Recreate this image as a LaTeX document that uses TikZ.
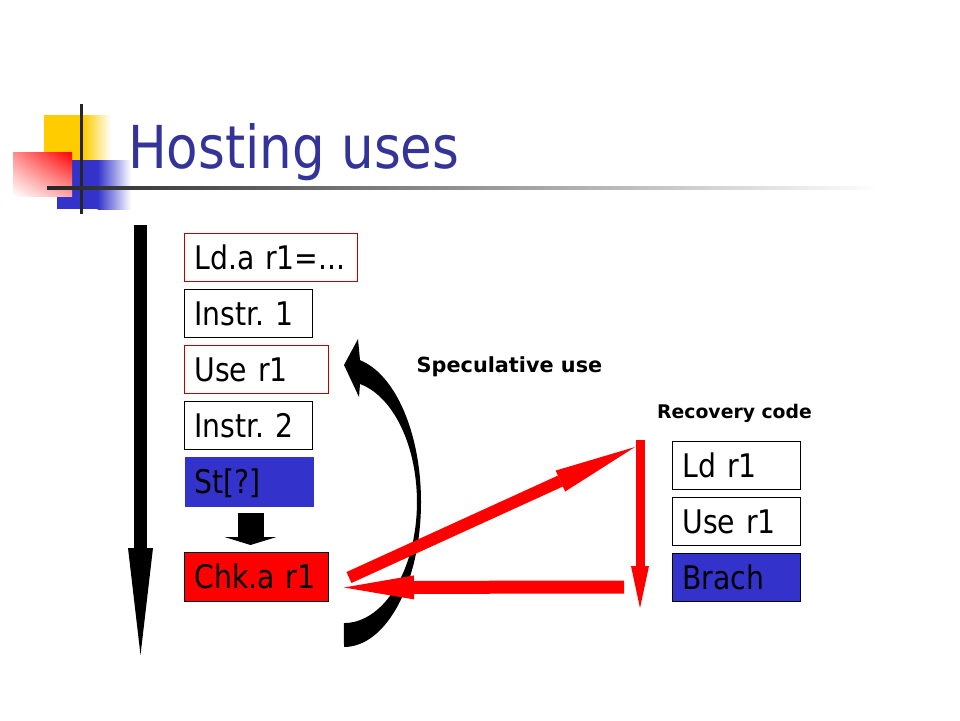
\documentclass[tikz,border=0pt]{standalone}
\usepackage{fontspec}
\setmainfont{DejaVu Sans}[FakeStretch=0.87]
\newfontfamily\lblfont{DejaVu Sans}
\usetikzlibrary{arrows.meta,calc,shadings}
\definecolor{titleblue}{HTML}{333399}
\definecolor{boxblue}{HTML}{3333CC}
\definecolor{boxred}{HTML}{FF0000}
\definecolor{edgered}{HTML}{C00000}
\definecolor{logoyellow}{HTML}{FFCC00}
\frenchspacing
\begin{document}
\begin{tikzpicture}[x=1pt,y=-1pt,
  box/.style={draw=black, line width=1pt, anchor=north west, inner xsep=10pt, inner ysep=0pt,
    minimum height=48pt, text height=23.3pt, text depth=0pt, align=left,
    font=\fontsize{32.5}{38}\selectfont},
  redbox/.style={box, draw=edgered},
  lbl/.style={anchor=base west, inner sep=0pt, font=\lblfont\bfseries},
  redarrow/.style={draw=boxred},
]
\useasboundingbox (0,0) rectangle (960,720);
\fill[white] (0,0) rectangle (960,720);

% logo
\fill[logoyellow] (44,115) rectangle (84,160);
\shade[left color=logoyellow, right color=white] (83.5,115) rectangle (111,160);
\fill[boxblue] (57,160) rectangle (98,209);
\shade[left color=boxblue, right color=white] (97.5,160) rectangle (131,209);
\shade[upper right=boxred, upper left=red!45, lower left=white, lower right=red!35] (13,152) rectangle (72,196);
\fill[black!85] (79.5,104) rectangle (82.5,214);
\shade[left color=black!85, right color=white] (47,186.5) rectangle (880,189.5);

% title
\node[anchor=base west, inner sep=0pt, text=titleblue, font=\fontsize{59.2}{70}\selectfont] (title) at (128,168) {Hosting uses};

% timeline arrow
\coordinate (tl1) at (140.5,225);
\coordinate (tl2) at (140.5,655);
\draw[line width=13pt, -{Triangle[length=107pt,width=25pt,line width=0pt]}] (tl1) -- (tl2);

% left boxes
\node[redbox, text width=153pt] (ld) at (184,233) {Ld.a r1=...};
\node[box, text width=108pt] (i1) at (184,289) {Instr. 1};
\node[redbox, text width=124pt] (use) at (184,345) {Use r1};
\node[box, text width=108pt] (i2) at (184,401) {Instr. 2};
\node[box, draw=none, fill=boxblue, text width=109pt, minimum height=50pt] (st) at (184,456) {St[?]};
\node[box, fill=boxred, text width=124pt, minimum height=49pt] (chk) at (184,552) {Chk.a r1};

% right boxes
\node[box, text width=108pt] (rld) at (672,441) {Ld r1};
\node[box, text width=108pt] (ruse) at (672,497) {Use r1};
\node[box, fill=boxblue, text width=108pt] (brach) at (672,553) {Brach};

% labels
\node[lbl, font=\lblfont\bfseries\fontsize{20.8}{24}\selectfont] (spec) at (416.5,372) {Speculative use};
\node[lbl, font=\lblfont\bfseries\fontsize{18.8}{22}\selectfont] (rec) at (657,418) {Recovery code};

% block arrow St -> Chk
\coordinate (dA) at ($(st.south)+(1.5,6)$);
\coordinate (dB) at ($(chk.north)+(0,-7)$);
\draw[line width=26pt, -{Triangle[length=8pt,width=52pt,line width=0pt]}] (dA) -- (dA |- dB);

% curved speculative arrow
\fill[black] (344,647) arc[start angle=90, end angle=-78, x radius=77, y radius=145]
  -- (358,339) -- (344,365) -- (359,397) -- (360,384)
  arc[start angle=-77.3, end angle=90, x radius=73, y radius=121] -- cycle;

% red recovery arrows
\coordinate (dtip) at (635,447);
\coordinate (rtop) at (640,440);
\coordinate (rbot) at (640,608);
\coordinate (rback) at (624,587);
\draw[redarrow, line width=12pt, -{Triangle[length=82pt,width=23pt,line width=0pt]}] ($(chk.east)+(20,0.5)$) -- (dtip);
\draw[redarrow, line width=9pt, -{Triangle[length=42pt,width=18pt,line width=0pt]}] (rtop) -- (rbot);
\draw[redarrow, line width=13pt, -{Triangle[length=70pt,width=24pt,line width=0pt]}] (rback) -- ($(chk.east)+(15,10.5)$);
\end{tikzpicture}
\end{document}
